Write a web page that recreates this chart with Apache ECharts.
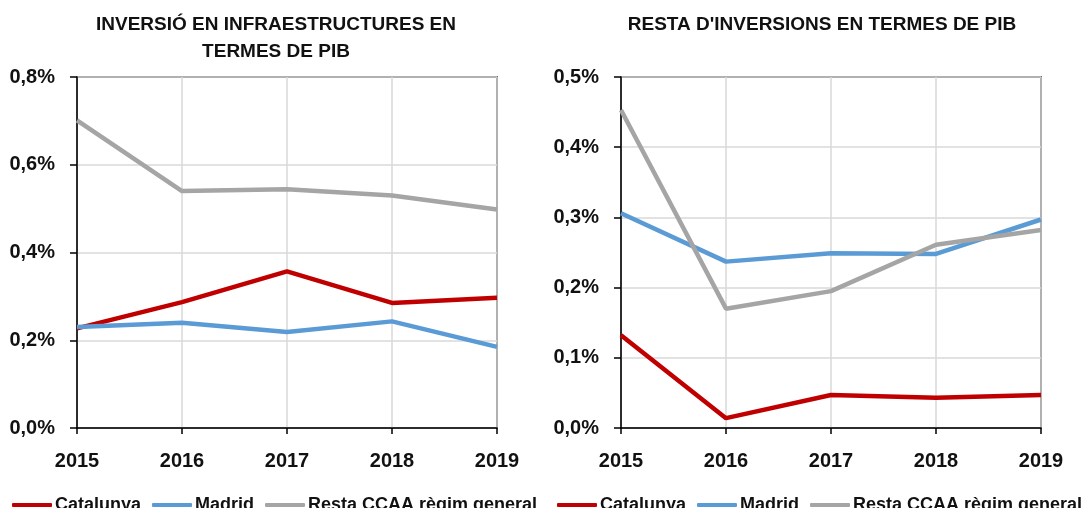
<!DOCTYPE html>
<html>
<head>
<meta charset="utf-8">
<script src="https://cdn.jsdelivr.net/npm/echarts@6/dist/echarts.min.js"></script>
<style>
html,body{margin:0;padding:0;background:#fff;}
#c{width:1083px;height:508px;}
</style>
</head>
<body>
<div id="c"></div>
<script>
// Data (values in % of GDP)
var years = ['2015', '2016', '2017', '2018', '2019'];
var seriesNames = ['Catalunya', 'Madrid', 'Resta CCAA règim general'];

var infraCatalunya = [0.227, 0.287, 0.357, 0.285, 0.297];
var infraMadrid    = [0.230, 0.240, 0.219, 0.243, 0.185];
var infraResta     = [0.701, 0.540, 0.544, 0.530, 0.498];

var restCatalunya = [0.132, 0.014, 0.047, 0.043, 0.047];
var restMadrid    = [0.306, 0.237, 0.249, 0.248, 0.297];
var restResta     = [0.453, 0.170, 0.195, 0.261, 0.282];

var titles = ['INVERSIÓ EN INFRAESTRUCTURES EN\nTERMES DE PIB', "RESTA D'INVERSIONS EN TERMES DE PIB"];
var yMax = [0.8, 0.5];
var yStep = [0.2, 0.1];

var colors = ['#c00000', '#5b9bd5', '#a5a5a5'];
var FONT = '"Liberation Sans", Arial, sans-serif';

function pctLabel(v) {
  return v.toFixed(1).replace('.', ',') + '%';
}

var gridLefts = [77, 621];
var grids = [], xAxes = [], yAxes = [], series = [], legends = [], titleArr = [];
var dataSets = [[infraCatalunya, infraMadrid, infraResta], [restCatalunya, restMadrid, restResta]];
var titleCenters = [271, 817];
var legendLefts = [12, 557];

for (var g = 0; g < 2; g++) {
  grids.push({
    left: gridLefts[g], top: 77, width: 420, height: 351,
    show: true, borderColor: '#000', borderWidth: 1.5, backgroundColor: 'transparent'
  });
  xAxes.push({
    type: 'category', gridIndex: g, data: years, boundaryGap: false,
    axisLine: { lineStyle: { color: '#000', width: 1.5 } },
    axisTick: { show: true, length: 6, lineStyle: { color: '#000', width: 1.5 } },
    splitLine: { show: true, lineStyle: { color: '#d9d9d9', width: 1.5 } },
    axisLabel: { color: '#111', fontFamily: FONT, fontWeight: 'bold', fontSize: 20, margin: 23 }
  });
  yAxes.push({
    type: 'value', gridIndex: g, min: 0, max: yMax[g], interval: yStep[g],
    axisLine: { show: true, lineStyle: { color: '#000', width: 1.5 } },
    axisTick: { show: true, length: 7, lineStyle: { color: '#000', width: 1.5 } },
    splitLine: { show: true, lineStyle: { color: '#d9d9d9', width: 1.5 } },
    axisLabel: { color: '#111', fontFamily: FONT, fontWeight: 'bold', fontSize: 20, margin: 22,
      formatter: pctLabel }
  });
  for (var s = 0; s < 3; s++) {
    series.push({
      name: seriesNames[s], type: 'line', xAxisIndex: g, yAxisIndex: g,
      data: dataSets[g][s], symbol: 'none', smooth: false,
      lineStyle: { color: colors[s], width: 4.5 }, itemStyle: { color: colors[s] },
      z: 3 + s
    });
  }
  legends.push({
    left: legendLefts[g], top: 496, width: 600, padding: 0, orient: 'horizontal',
    data: seriesNames, itemWidth: 40, itemHeight: 4, itemGap: 11,
    icon: 'roundRect',
    selectedMode: false,
    textStyle: { color: '#111', fontFamily: FONT, fontWeight: 'bold', fontSize: 18, padding: [0, 0, 0, -2] }
  });
  titleArr.push({
    text: titles[g], left: titleCenters[g], top: 6, textAlign: 'center',
    textStyle: { color: '#111', fontFamily: FONT, fontWeight: 'bold', fontSize: 19, lineHeight: 27 }
  });
}

var chart = echarts.init(document.getElementById('c'), null, { renderer: 'canvas' });
chart.setOption({
  animation: false,
  backgroundColor: '#fff',
  title: titleArr,
  grid: grids,
  xAxis: xAxes,
  yAxis: yAxes,
  legend: legends,
  series: series
});
</script>
</body>
</html>
